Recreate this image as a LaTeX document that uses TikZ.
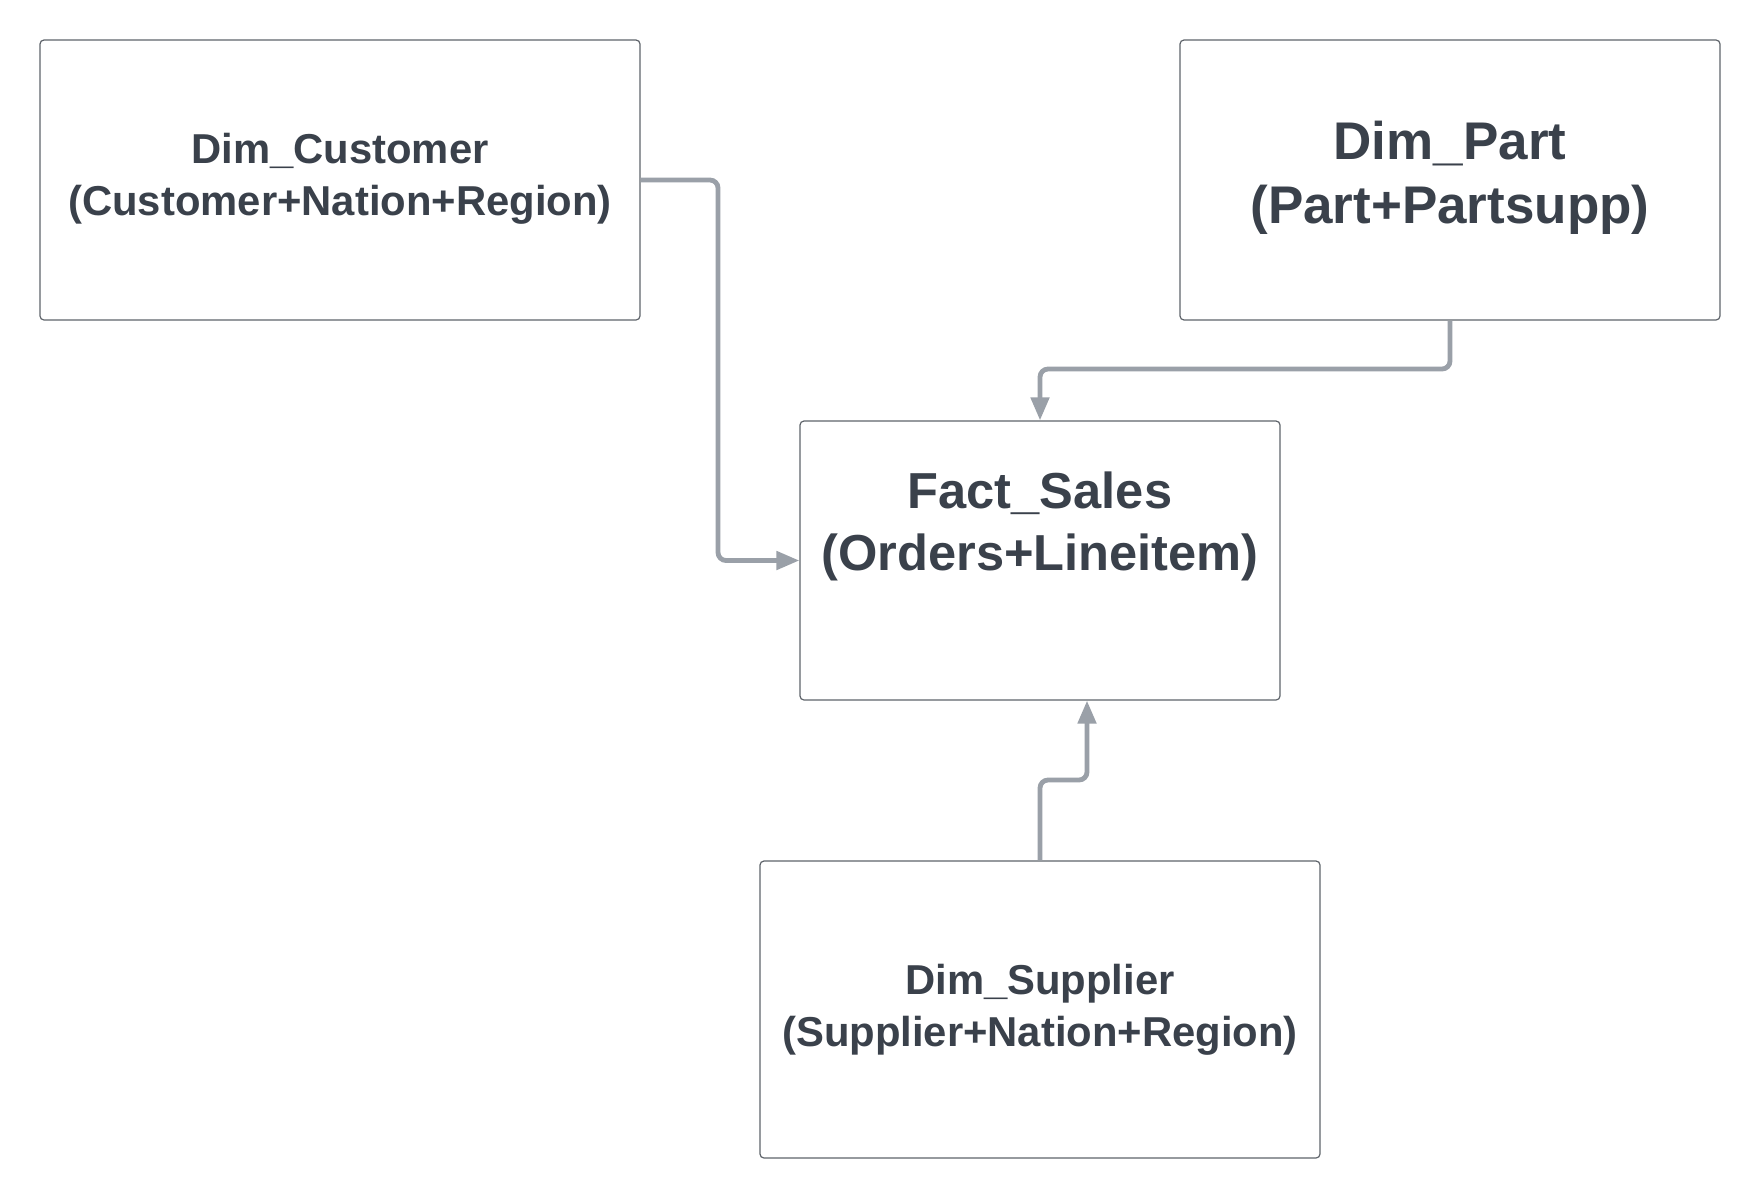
\documentclass[tikz,border=0pt]{standalone}
\usepackage{fontspec}
\setmainfont{Liberation Sans}
\usetikzlibrary{arrows.meta}
\definecolor{boxline}{HTML}{5F646B}
\definecolor{connline}{HTML}{9AA0A8}
\definecolor{txt}{HTML}{3A414B}
\tikzset{
  box/.style={draw=boxline, line width=0.6pt, rounded corners=2pt, fill=white, inner sep=0pt},
  conn/.style={draw=connline, line width=2.4pt, rounded corners=4pt, -{Triangle[length=11.5pt,width=9pt]}},
  lbl/.style={text=txt, align=center, inner sep=0pt, font=\bfseries}
}
\begin{document}
\begin{tikzpicture}[x=0.5pt,y=-0.5pt]
\useasboundingbox (0,0) rectangle (1760,1200);
\fill[white] (0,0) rectangle (1760,1200);
% boxes
\node[box, minimum width=300pt, minimum height=140pt] (cust) at (340,180) {};
\node[box, minimum width=270pt, minimum height=140pt] (part) at (1450,180) {};
\node[box, minimum width=240pt, minimum height=139.5pt] (fact) at (1040,560.5) {};
\node[box, minimum width=280pt, minimum height=148.5pt] (sup) at (1040,1009.5) {};
% labels
\node[lbl, font=\bfseries\fontsize{20.9pt}{26pt}\selectfont] (custlbl) at (340,179) {Dim\_Customer\\(Customer+Nation+Region)};
\node[lbl, font=\bfseries\fontsize{26.5pt}{32pt}\selectfont] (partlbl) at (1450,178) {Dim\_Part\\(Part+Partsupp)};
\node[lbl, font=\bfseries\fontsize{25.3pt}{31pt}\selectfont] (factlbl) at (1040,526) {Fact\_Sales\\(Orders+Lineitem)};
\node[lbl, font=\bfseries\fontsize{20.9pt}{26pt}\selectfont] (suplbl) at (1040,1010) {Dim\_Supplier\\(Supplier+Nation+Region)};
% connectors
\draw[conn] (cust.east) -- (718,180) -- (718,560.5) -- (fact.west);
\draw[conn] (part.south) -- (1450,369) -- (1040,369) -- (fact.north);
\draw[conn] (sup.north) -- (1040,780) -- (1087,780) -- (1087,0 |- fact.south);
\end{tikzpicture}
\end{document}
